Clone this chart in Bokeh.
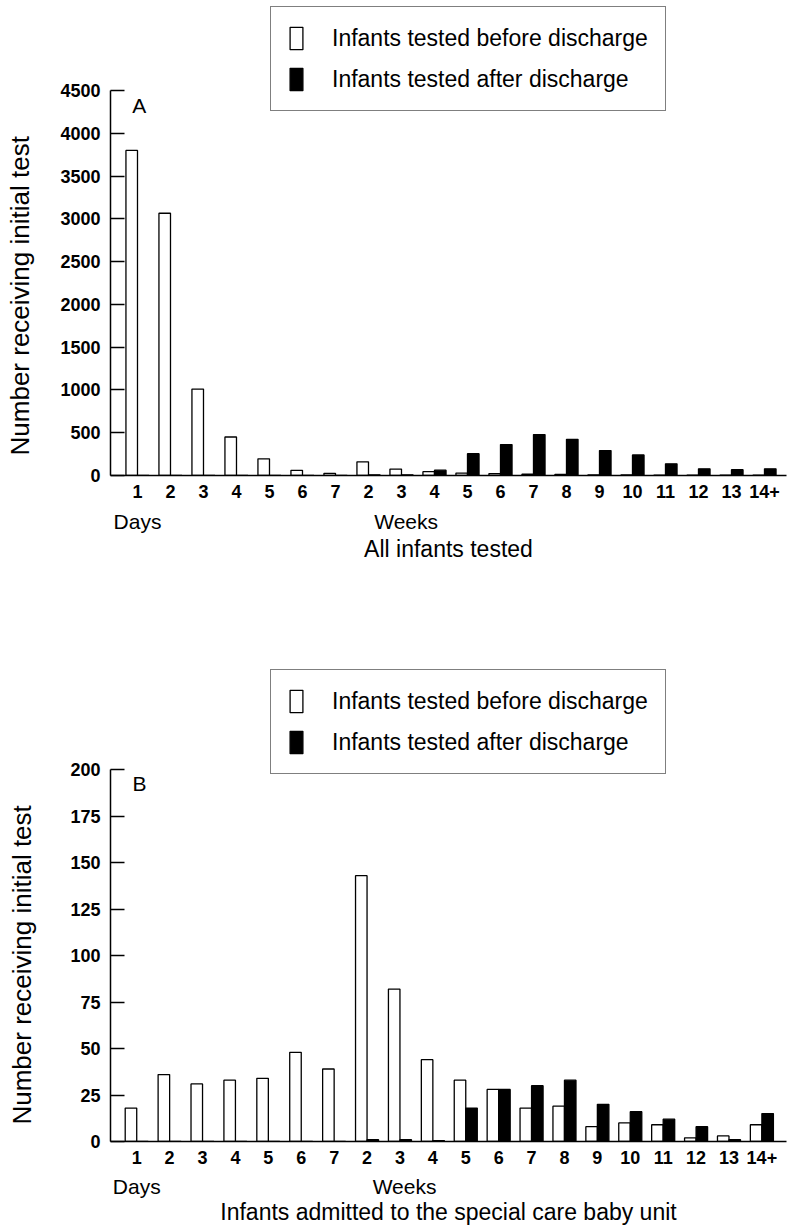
from bokeh.plotting import figure
from bokeh.models import (Range1d, FixedTicker, LinearAxis, Legend, LegendItem,
                          Label, ColumnDataSource)
from bokeh.layouts import column
from bokeh.embed import file_html
from bokeh.resources import INLINE

# ---- data ----
period_labels = ["1", "2", "3", "4", "5", "6", "7", "2", "3", "4", "5", "6", "7",
                 "8", "9", "10", "11", "12", "13", "14+"]
all_before = [3800, 3065, 1010, 450, 195, 60, 25, 160, 75, 45, 28, 22, 16, 12, 8, 6, 5, 4, 3, 3]
all_after = [0, 0, 0, 0, 0, 0, 2, 8, 8, 62, 255, 362, 478, 423, 291, 241, 137, 78, 68, 78]
scbu_before = [18, 36, 31, 33, 34, 48, 39, 143, 82, 44, 33, 28, 18, 19, 8, 10, 9, 2, 3, 9]
scbu_after = [0, 0, 0, 0, 0, 0, 0, 1, 1, 0.5, 18, 28, 30, 33, 20, 16, 12, 8, 1, 15]
a_yticks = [0, 500, 1000, 1500, 2000, 2500, 3000, 3500, 4000, 4500]
b_yticks = [0, 25, 50, 75, 100, 125, 150, 175, 200]
group_labels = ["Days", "Weeks"]
legend_labels = ["Infants tested before discharge", "Infants tested after discharge"]
y_title = "Number receiving initial test"
title_a = "All infants tested"
title_b = "Infants admitted to the special care baby unit"

FONT = "Liberation Sans"
LEG_H = 17 * 2 + 28 * 2 + 13
NBSP = "\u00a0"


def panel(before, after, yticks, ymax_axis, y_end, x_start, x_end, height,
          frame_h, left_border, bottom_border, letter, letter_x, letter_y,
          xtitle, legend_pos, ylab_standoff, ylab_pad, s2, st):
    p = figure(width=788, height=height, output_backend="svg",
               toolbar_location=None,
               x_range=Range1d(x_start, x_end), y_range=Range1d(0, y_end),
               min_border_left=left_border, min_border_right=2,
               min_border_top=0, min_border_bottom=bottom_border,
               x_axis_location=None, y_axis_location=None)
    p.outline_line_color = None
    p.background_fill_color = "white"
    p.border_fill_color = "white"
    for g in p.grid:
        g.visible = False

    # the axis title is centred on the frame; trailing no-break spaces move
    # the visible words down to where the reference has them
    ya = LinearAxis(ticker=FixedTicker(ticks=yticks), bounds=(0, ymax_axis),
                    axis_label=y_title + NBSP * ylab_pad)
    ya.axis_line_width = 1.5
    ya.major_tick_line_width = 1.5
    ya.major_tick_in = 14
    ya.major_tick_out = 0
    ya.minor_tick_line_color = None
    ya.major_label_standoff = 10
    ya.major_label_text_font = FONT
    ya.major_label_text_font_size = "18px"
    ya.major_label_text_font_style = "bold"
    ya.major_label_text_color = "black"
    ya.axis_label_text_font = FONT
    ya.axis_label_text_font_size = "26px"
    ya.axis_label_text_font_style = "normal"
    ya.axis_label_text_color = "black"
    ya.axis_label_standoff = ylab_standoff
    p.add_layout(ya, "left")

    xs = list(range(1, len(period_labels) + 1))
    xa = LinearAxis(ticker=FixedTicker(ticks=xs),
                    major_label_overrides={x: lab for x, lab in zip(xs, period_labels)})
    xa.axis_line_width = 1.5
    xa.major_tick_in = 0
    xa.major_tick_out = 0
    xa.minor_tick_line_color = None
    xa.major_label_standoff = 9
    xa.major_label_text_font = FONT
    xa.major_label_text_font_size = "18px"
    xa.major_label_text_font_style = "bold"
    xa.major_label_text_color = "black"
    p.add_layout(xa, "below")

    gx = [1, 9.14]
    xa2 = LinearAxis(ticker=FixedTicker(ticks=gx),
                     major_label_overrides={x: lab for x, lab in zip(gx, group_labels)},
                     axis_label=xtitle)
    xa2.axis_line_color = None
    xa2.major_tick_line_color = None
    xa2.major_tick_in = 0
    xa2.major_tick_out = 0
    xa2.minor_tick_line_color = None
    xa2.major_label_standoff = s2
    xa2.major_label_text_font = FONT
    xa2.major_label_text_font_size = "21px"
    xa2.major_label_text_font_style = "normal"
    xa2.major_label_text_color = "black"
    xa2.axis_label_text_font = FONT
    xa2.axis_label_text_font_size = "23px"
    xa2.axis_label_text_font_style = "normal"
    xa2.axis_label_text_color = "black"
    xa2.axis_label_standoff = st
    p.add_layout(xa2, "below")

    src = ColumnDataSource(dict(
        xb=[x - 0.175 for x in xs], xa=[x + 0.175 for x in xs],
        before=before, after=after))
    r1 = p.vbar(x="xb", top="before", width=0.35, source=src,
                fill_color="white", line_color="black", line_width=1.3)
    r2 = p.vbar(x="xa", top="after", width=0.35, source=src,
                fill_color="black", line_color="black", line_width=1.3)

    leg = Legend(items=[LegendItem(label=legend_labels[0], renderers=[r1]),
                        LegendItem(label=legend_labels[1], renderers=[r2])],
                 location=legend_pos)
    leg.border_line_color = "black"
    leg.border_line_width = 1.5
    leg.background_fill_color = "white"
    leg.background_fill_alpha = 1
    leg.label_text_font = FONT
    leg.label_text_font_size = "23px"
    leg.label_text_color = "black"
    leg.glyph_width = 16
    leg.glyph_height = 28
    leg.label_height = 22
    leg.spacing = 13
    leg.padding = 17
    leg.label_standoff = 28
    leg.margin = 0
    p.add_layout(leg, "center")

    p.add_layout(Label(x=letter_x, y=letter_y, text=letter, text_font=FONT,
                       text_font_size="21px", text_baseline="middle",
                       text_align="left", text_color="black"))
    return p


# panel A: frame top at page y 0, baseline at 475, 4500 at 90
a_scale = 385 / 4500
pa = panel(all_before, all_after, a_yticks, 4500, 475 / a_scale,
           0.182, 20.667, 665, 475, 110, 190, "A", 0.84, 4325,
           title_a, (160, 475 - 8 - LEG_H), 22, 16, 9, 0)
# panel B: frame top at page y 665, baseline at 1143, 200 at 770
b_scale = 373.3 / 200
pb = panel(scbu_before, scbu_after, b_yticks, 200, 478 / b_scale,
           0.203, 20.748, 562, 478, 108, 84, "B", 0.87, 192.5,
           title_b, (160, 478 - 8 - LEG_H), 30, 17, 8, -2)

layout = column(pa, pb, spacing=0)
open("out.html", "w").write(file_html(layout, INLINE))
